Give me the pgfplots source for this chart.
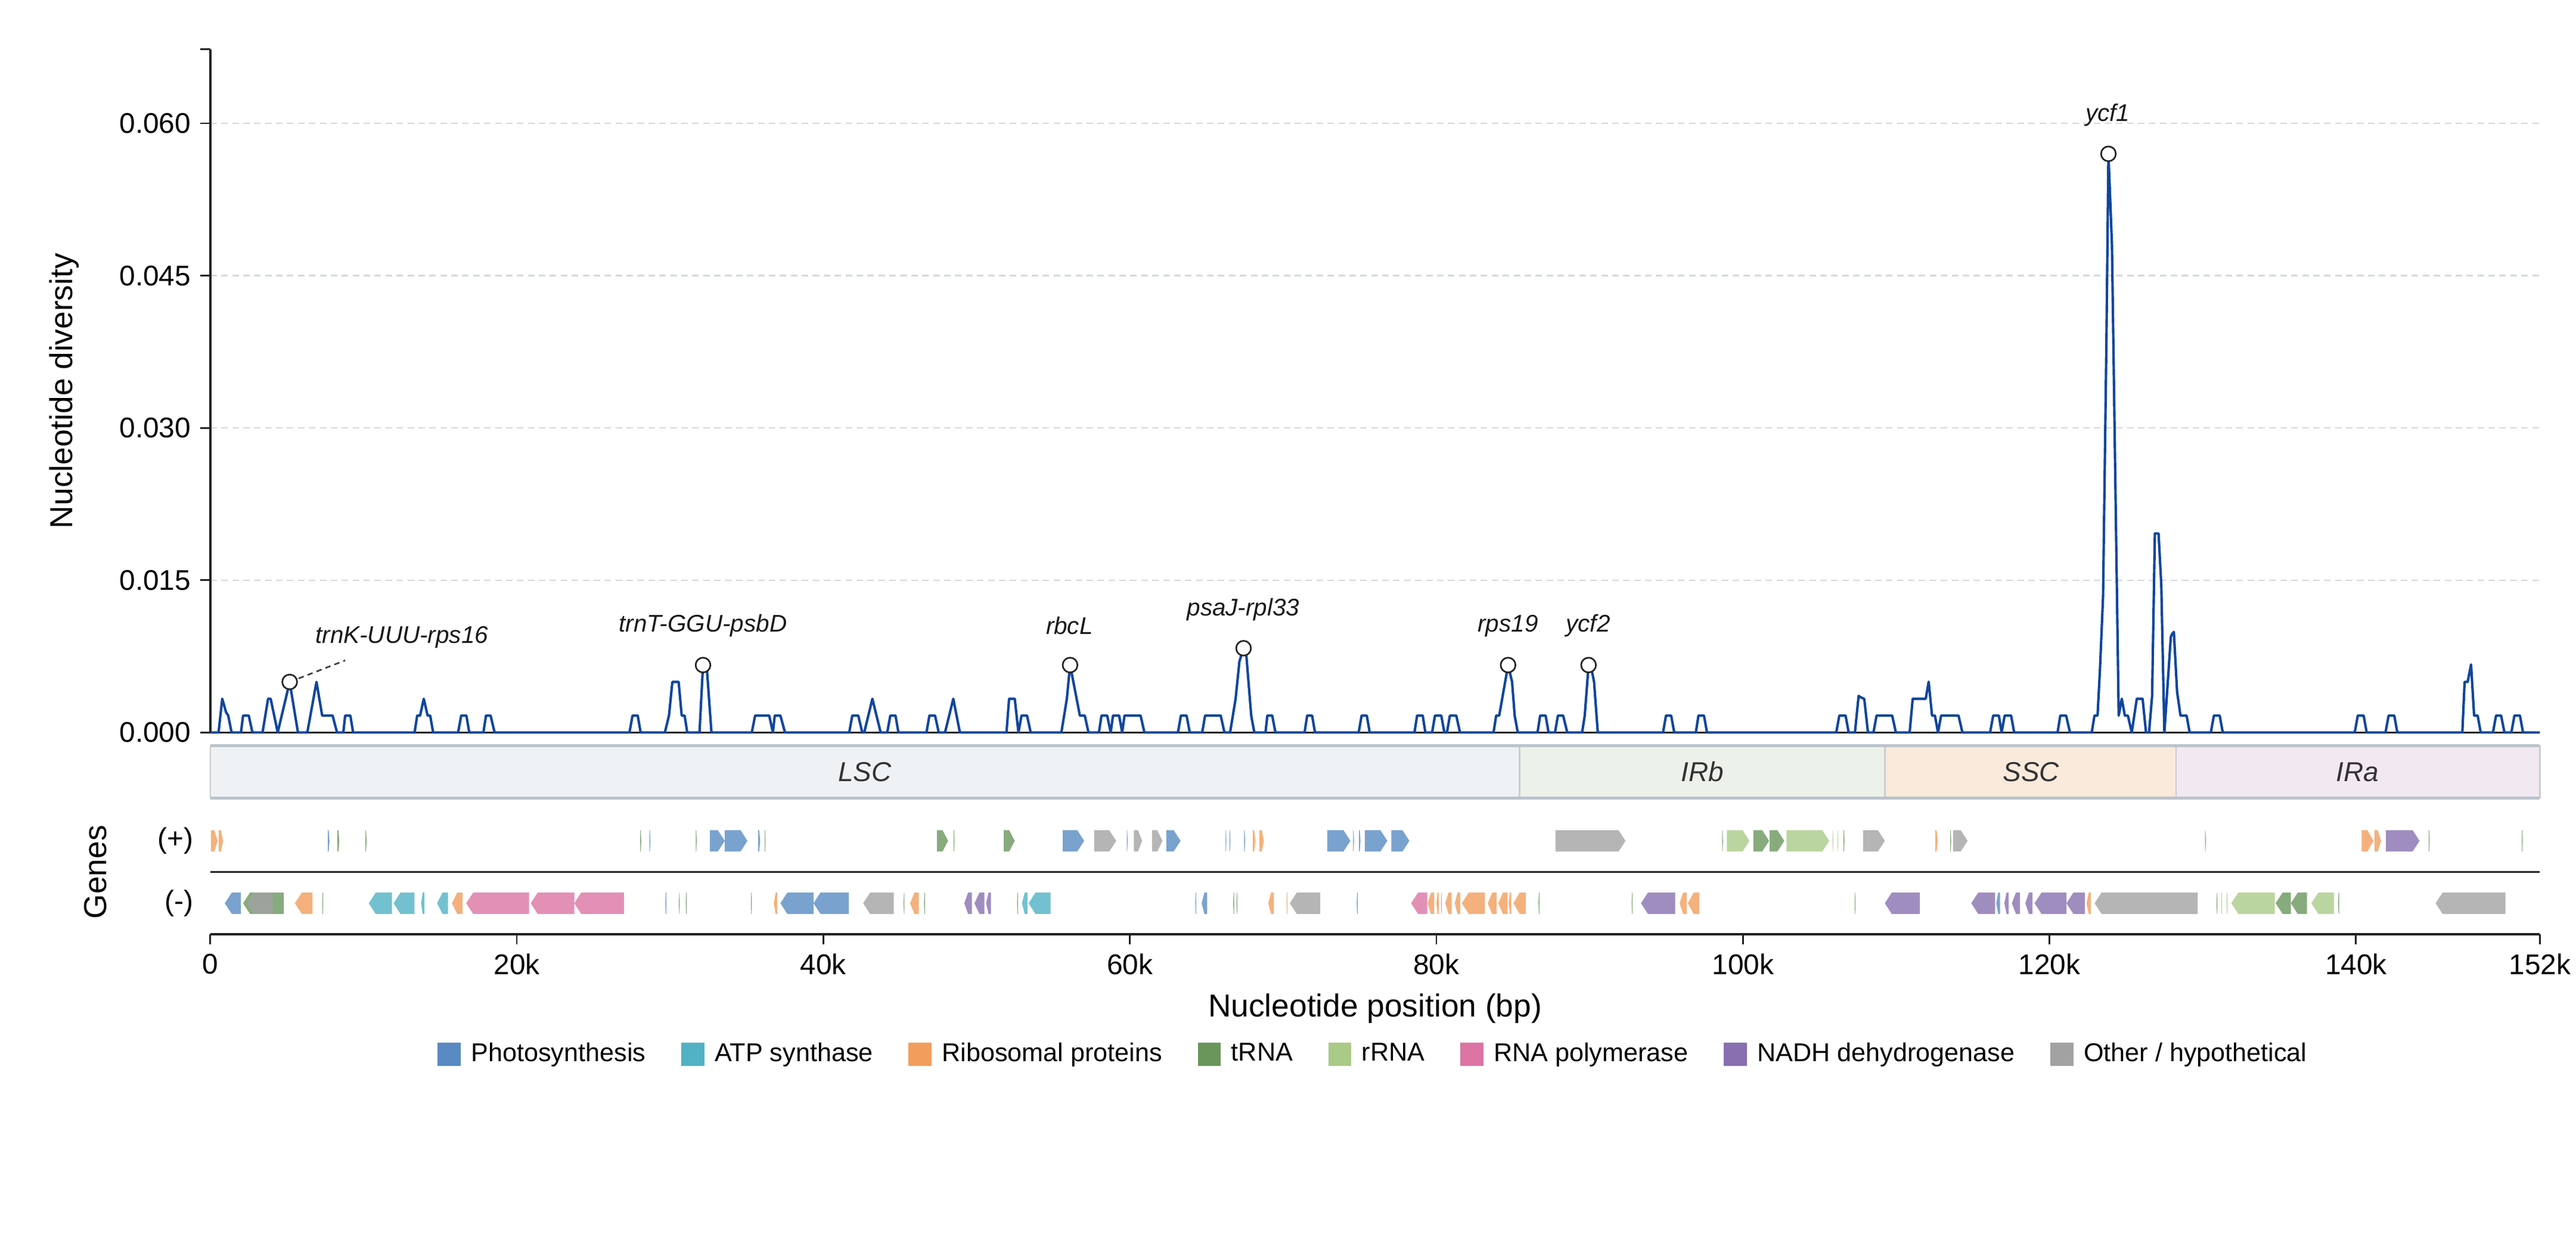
\documentclass[border=0pt]{standalone}
\usepackage{fontspec}
\setmainfont{Liberation Sans}
\usepackage{pgfplots}
\pgfplotsset{compat=1.18}

\definecolor{divc}{RGB}{16,70,156}
\definecolor{axisc}{RGB}{34,34,34}
\definecolor{gridc}{RGB}{212,217,222}
\definecolor{lscc}{RGB}{238,242,245}
\definecolor{irbc}{RGB}{236,242,234}
\definecolor{sscc}{RGB}{249,234,219}
\definecolor{irac}{RGB}{242,232,242}
\definecolor{regb}{RGB}{186,195,204}
\definecolor{regd}{RGB}{200,205,210}
\definecolor{phot}{RGB}{88,139,195}
\definecolor{atps}{RGB}{80,178,196}
\definecolor{ribo}{RGB}{241,158,92}
\definecolor{trna}{RGB}{106,150,92}
\definecolor{rrna}{RGB}{170,202,136}
\definecolor{rpol}{RGB}{220,116,164}
\definecolor{nadh}{RGB}{136,112,176}
\definecolor{othr}{RGB}{162,162,162}

\pgfplotsset{genebox/.style={draw=none, fill opacity=0.8, forget plot}}

% gene on the + strand (arrow points right) / - strand (arrow points left)
\newcommand{\geneP}[3]{%
  \pgfmathsetmacro\gtip{min(0.45,0.5*(#2-#1))}%
  \pgfmathsetmacro\gbase{#2-\gtip}%
  \addplot[genebox, fill=#3] coordinates {(#1,0.33) (\gbase,0.33) (#2,0.5) (\gbase,0.67) (#1,0.67)} --cycle;}
\newcommand{\geneM}[3]{%
  \pgfmathsetmacro\gtip{min(0.45,0.5*(#2-#1))}%
  \pgfmathsetmacro\gbase{#1+\gtip}%
  \addplot[genebox, fill=#3] coordinates {(#1,-0.5) (\gbase,-0.33) (#2,-0.33) (#2,-0.67) (\gbase,-0.67)} --cycle;}

\begin{document}
\begin{tikzpicture}
\path[use as bounding box] (-76.8pt,18pt) rectangle (864pt,-439.6pt);

% ---- nucleotide diversity ----
\begin{axis}[
  at={(0,0)}, anchor=north west,
  scale only axis, width=850.8pt, height=249.6pt,
  xmin=0, xmax=152, ymin=0, ymax=0.0673,
  axis x line*=bottom, axis y line*=left,
  axis line style={-, draw=axisc, line width=0.8pt},
  xtick=\empty,
  scaled y ticks=false,
  ytick={0,0.015,0.030,0.045,0.060},
  yticklabels={0.000,0.015,0.030,0.045,0.060},
  extra y ticks={0.0673}, extra y tick labels={\relax}, extra y tick style={grid=none},
  ytick pos=left, tick align=outside, major tick length=3.6pt,
  tick style={draw=axisc, line width=0.6pt},
  ymajorgrids, grid style={draw=gridc, line width=0.5pt, dash pattern=on 2.4pt off 1.6pt},
  tick label style={font=\fontsize{10.4}{12}\selectfont},
  /pgf/number format/assume math mode=true,
  ylabel={Nucleotide diversity},
  y label style={at={(axis description cs:-0.0628,0.5)}, anchor=center, font=\fontsize{11.6}{14}\selectfont},
  clip=false,
]
\addplot[color=divc, line width=0.9pt, line join=round] coordinates {
(0,0) (0.54,0) (0.78,0.00332) (1.03,0.0020) (1.17,0.00166) (1.39,0)
(2.0,0) (2.14,0.00166) (2.51,0.00166) (2.75,0)
(3.41,0) (3.77,0.00332) (3.94,0.00332) (4.4,0)
(5.18,0.00498) (5.72,0)
(6.33,0) (6.93,0.00498) (7.30,0.00166) (7.98,0.00166) (8.27,0)
(8.68,0) (8.8,0.00166) (9.14,0.00166) (9.32,0)
(13.33,0) (13.5,0.00166) (13.69,0.00166) (13.93,0.00332) (14.18,0.00166) (14.35,0.00166) (14.54,0)
(16.17,0) (16.37,0.00166) (16.71,0.00166) (16.9,0)
(17.82,0) (17.99,0.00166) (18.29,0.00166) (18.55,0)
(27.35,0) (27.55,0.00166) (27.89,0.00166) (28.08,0)
(29.66,0) (29.93,0.00166) (30.15,0.00498) (30.56,0.00498) (30.76,0.00166) (30.95,0.00166) (31.12,0)
(31.92,0) (32.15,0.00664) (32.4,0.0063) (32.7,0)
(35.33,0) (35.55,0.00166) (36.47,0.00166) (36.71,0) (36.83,0.00166) (37.2,0.00166) (37.5,0)
(41.69,0) (41.89,0.00166) (42.28,0.00166) (42.54,0) (42.67,0) (43.2,0.00332) (43.74,0)
(44.17,0) (44.37,0.00166) (44.71,0.00166) (44.9,0)
(46.73,0) (46.92,0.00166) (47.29,0.00166) (47.53,0)
(47.94,0) (48.48,0.00332) (48.91,0)
(51.95,0) (52.12,0.00332) (52.49,0.00332) (52.73,0) (52.93,0.00166) (53.29,0.00166) (53.53,0)
(55.53,0) (55.89,0.00332) (56.1,0.00664) (56.74,0.00166) (57.06,0.00166) (57.3,0)
(57.98,0) (58.15,0.00166) (58.52,0.00166) (58.75,0) (58.9,0.00166) (59.3,0.00166) (59.5,0) (59.65,0.00166) (60.7,0.00166) (60.95,0)
(63.14,0) (63.33,0.00166) (63.7,0.00166) (63.91,0)
(64.72,0) (64.91,0.00166) (65.93,0.00166) (66.17,0)
(66.54,0) (66.9,0.00332) (67.15,0.0070) (67.42,0.0083) (67.6,0.0076) (67.92,0.00166) (68.12,0)
(68.85,0) (68.97,0.00166) (69.29,0.00166) (69.5,0)
(71.4,0) (71.57,0.00166) (71.89,0.00166) (72.08,0)
(74.93,0) (75.12,0.00166) (75.46,0.00166) (75.65,0)
(78.57,0) (78.74,0.00166) (79.11,0.00166) (79.28,0)
(79.72,0) (79.91,0.00166) (80.32,0.00166) (80.52,0)
(80.69,0) (80.88,0.00166) (81.3,0.00166) (81.54,0)
(83.73,0) (83.9,0.00166) (84.1,0.00166) (84.68,0.00664) (84.94,0.00498) (85.11,0.00166) (85.31,0)
(86.6,0) (86.77,0.00166) (87.13,0.00166) (87.32,0)
(87.74,0) (87.93,0.00166) (88.27,0.00166) (88.54,0)
(89.51,0) (89.68,0.00166) (89.93,0.00664) (90.1,0.0064) (90.29,0.00498) (90.53,0)
(94.79,0) (94.98,0.00166) (95.32,0.00166) (95.52,0)
(96.93,0) (97.1,0.00166) (97.46,0.00166) (97.66,0)
(106.09,0) (106.29,0.00166) (106.7,0.00166) (106.9,0)
(107.31,0) (107.55,0.0036) (107.65,0.0035) (107.92,0.0033) (108.16,0)
(108.52,0) (108.72,0.00166) (109.74,0.00166) (109.98,0)
(110.88,0) (111.08,0.00332) (111.93,0.00332) (112.12,0.0050) (112.34,0.00166) (112.53,0.00166) (112.73,0) (112.93,0.00166) (114.07,0.00166) (114.32,0)
(116.13,0) (116.33,0.00166) (116.7,0.00166) (116.88,0) (117.08,0.00166) (117.5,0.00166) (117.7,0)
(120.53,0) (120.71,0.00166) (121.09,0.00166) (121.34,0)
(122.76,0) (122.94,0.00166) (123.14,0.00166) (123.3,0.0063) (123.5,0.0134) (123.72,0.0386) (123.85,0.0570) (124.08,0.048) (124.52,0.00166) (124.72,0.00332) (124.92,0.00166) (125.12,0.00166) (125.37,0)
(125.7,0.00332) (126.08,0.00332) (126.3,0) (126.5,0) (126.7,0.0036) (126.88,0.0196) (127.12,0.0196) (127.3,0.0145) (127.5,0)
(127.92,0.0094) (128.0,0.0097) (128.12,0.0099) (128.33,0.0040) (128.55,0.00166) (128.95,0.00166) (129.15,0)
(130.53,0) (130.73,0.00166) (131.11,0.00166) (131.31,0)
(139.92,0) (140.12,0.00166) (140.5,0.00166) (140.7,0)
(141.93,0) (142.13,0.00166) (142.5,0.00166) (142.7,0)
(146.94,0) (147.09,0.00498) (147.29,0.00498) (147.51,0.0067) (147.71,0.00166) (147.94,0.00166) (148.14,0)
(148.94,0) (149.14,0.00166) (149.47,0.00166) (149.69,0)
(150.14,0) (150.34,0.00166) (150.7,0.00166) (150.9,0) (152,0)
};
\addplot[draw=black!75, line width=0.6pt, dash pattern=on 2pt off 1.5pt] coordinates {(5.18,0.00498) (8.8,0.0071)};
\addplot[only marks, mark=*, mark size=2.7pt, mark options={fill=white, draw=black!85, line width=0.6pt}] coordinates {
(5.18,0.00498) (32.15,0.00664) (56.1,0.00664) (67.42,0.0083) (84.68,0.00664) (89.93,0.00664) (123.85,0.0570)
};
\tikzset{ann/.style={font=\fontsize{8.8}{10}\selectfont\itshape, text=black!90, anchor=center, inner sep=0pt}}
\node[ann] at (axis cs:12.5,0.0094) {trnK-UUU-rps16};
\node[ann] at (axis cs:32.15,0.0105) {trnT-GGU-psbD};
\node[ann] at (axis cs:56.06,0.0105) {rbcL};
\node[ann] at (axis cs:67.4,0.0121) {psaJ-rpl33};
\node[ann] at (axis cs:84.67,0.0105) {rps19};
\node[ann] at (axis cs:89.9,0.0105) {ycf2};
\node[ann] at (axis cs:123.8,0.0608) {ycf1};
\end{axis}

% ---- regions ----
\begin{axis}[
  at={(0,-254.4pt)}, anchor=north west,
  scale only axis, width=850.8pt, height=19.2pt,
  xmin=0, xmax=152, ymin=0, ymax=1,
  hide axis, clip=false,
]
\addplot[fill=lscc, draw=none] coordinates {(0,0) (85.43,0) (85.43,1) (0,1)} --cycle;
\addplot[fill=irbc, draw=none] coordinates {(85.43,0) (109.26,0) (109.26,1) (85.43,1)} --cycle;
\addplot[fill=sscc, draw=none] coordinates {(109.26,0) (128.27,0) (128.27,1) (109.26,1)} --cycle;
\addplot[fill=irac, draw=none] coordinates {(128.27,0) (152,0) (152,1) (128.27,1)} --cycle;
\addplot[draw=regd, line width=0.5pt] coordinates {(0,0) (0,1)};
\addplot[draw=regd, line width=0.5pt] coordinates {(85.43,0) (85.43,1)};
\addplot[draw=regd, line width=0.5pt] coordinates {(109.26,0) (109.26,1)};
\addplot[draw=regd, line width=0.5pt] coordinates {(128.27,0) (128.27,1)};
\addplot[draw=regd, line width=0.5pt] coordinates {(152,0) (152,1)};
\addplot[draw=regb, line width=1pt] coordinates {(0,1) (152,1)};
\addplot[draw=regb, line width=1pt] coordinates {(0,0) (152,0)};
\tikzset{reg/.style={font=\fontsize{10}{12}\selectfont\itshape, text=black!80, anchor=center}}
\node[reg] at (axis cs:42.7,0.5) {LSC};
\node[reg] at (axis cs:97.35,0.5) {IRb};
\node[reg] at (axis cs:118.8,0.5) {SSC};
\node[reg] at (axis cs:140.1,0.5) {IRa};
\end{axis}

% ---- genes ----
\begin{axis}[
  at={(0,-277.8pt)}, anchor=north west,
  scale only axis, width=850.8pt, height=45.6pt,
  xmin=0, xmax=152, ymin=-1, ymax=1,
  axis x line*=bottom, axis y line*=left,
  x axis line style={-, draw=axisc, line width=0.9pt},
  y axis line style={draw=none},
  xtick={0,20,40,60,80,100,120,140,152},
  xticklabels={0,20k,40k,60k,80k,100k,120k,140k,152k},
  xtick pos=bottom, tick align=outside, major tick length=3.6pt,
  xtick style={draw=axisc, line width=0.6pt},
  ytick={-0.5,0.5}, yticklabels={(-),(+)}, ytick pos=left,
  ytick style={draw=none},
  yticklabel style={xshift=1pt},
  tick label style={font=\fontsize{10.4}{12}\selectfont},
  xlabel={Nucleotide position (bp)},
  x label style={at={(axis description cs:0.5,-0.592)}, anchor=center, font=\fontsize{11.6}{14}\selectfont},
  ylabel={Genes},
  y label style={at={(axis description cs:-0.0494,0.5)}, anchor=center, font=\fontsize{11.6}{14}\selectfont},
  legend style={at={(0.5,-0.96)}, anchor=center, draw=none, fill=none, legend columns=8,
    font=\fontsize{9.4}{11}\selectfont,
    /tikz/every odd column/.append style={column sep=1.8pt},
    /tikz/every even column/.append style={column sep=11pt}},
  legend image code/.code={\fill[#1, draw=none] (0pt,-4.2pt) rectangle (8.4pt,4.2pt);},
  clip=false,
]
\addlegendimage{fill=phot}\addlegendentry{Photosynthesis}
\addlegendimage{fill=atps}\addlegendentry{ATP synthase}
\addlegendimage{fill=ribo}\addlegendentry{Ribosomal proteins}
\addlegendimage{fill=trna}\addlegendentry{tRNA}
\addlegendimage{fill=rrna}\addlegendentry{rRNA}
\addlegendimage{fill=rpol}\addlegendentry{RNA polymerase}
\addlegendimage{fill=nadh}\addlegendentry{NADH dehydrogenase}
\addlegendimage{fill=othr}\addlegendentry{Other / hypothetical}

\addplot[draw=axisc, line width=0.7pt, forget plot] coordinates {(0,0) (152,0)};

% + strand
\geneP{0.05}{0.48}{ribo}
\geneP{0.55}{0.84}{ribo}
\geneP{7.67}{7.78}{phot}
\geneP{8.30}{8.42}{trna}
\geneP{10.12}{10.20}{trna}
\geneP{28.05}{28.12}{trna}
\geneP{28.65}{28.72}{phot}
\geneP{31.68}{31.74}{trna}
\geneP{32.60}{33.57}{phot}
\geneP{33.57}{35.05}{phot}
\geneP{35.75}{35.88}{phot}
\geneP{36.18}{36.23}{trna}
\geneP{47.42}{48.14}{trna}
\geneP{48.50}{48.56}{trna}
\geneP{51.77}{52.49}{trna}
\geneP{55.62}{57.02}{phot}
\geneP{57.67}{59.11}{othr}
\geneP{59.80}{59.86}{phot}
\geneP{60.26}{60.80}{othr}
\geneP{61.45}{62.13}{othr}
\geneP{62.38}{63.31}{phot}
\geneP{66.25}{66.30}{phot}
\geneP{66.50}{66.56}{phot}
\geneP{67.46}{67.52}{phot}
\geneP{68.02}{68.20}{ribo}
\geneP{68.46}{68.75}{ribo}
\geneP{72.88}{74.39}{phot}
\geneP{74.57}{74.63}{phot}
\geneP{74.95}{75.05}{phot}
\geneP{75.33}{76.80}{phot}
\geneP{77.06}{78.24}{phot}
\geneP{87.77}{92.34}{othr}
\geneP{98.64}{98.70}{trna}
\geneP{98.96}{100.43}{rrna}
\geneP{100.69}{101.71}{trna}
\geneP{101.75}{102.70}{trna}
\geneP{102.84}{105.63}{rrna}
\geneP{105.85}{105.90}{rrna}
\geneP{106.17}{106.22}{rrna}
\geneP{106.57}{106.63}{trna}
\geneP{107.85}{109.26}{othr}
\geneP{112.55}{112.72}{ribo}
\geneP{113.53}{113.59}{trna}
\geneP{113.71}{114.66}{othr}
\geneP{130.15}{130.21}{trna}
\geneP{140.37}{141.14}{ribo}
\geneP{141.21}{141.64}{ribo}
\geneP{141.96}{144.15}{nadh}
\geneP{144.75}{144.81}{trna}
\geneP{150.82}{150.88}{trna}

% - strand
\geneM{0.95}{2.00}{phot}
\geneM{2.14}{4.80}{trna}
\geneM{2.39}{4.08}{othr}
\geneM{5.52}{6.67}{ribo}
\geneM{7.30}{7.35}{trna}
\geneM{10.34}{11.85}{atps}
\geneM{11.96}{13.32}{atps}
\geneM{13.75}{13.97}{atps}
\geneM{14.80}{15.51}{atps}
\geneM{15.77}{16.45}{ribo}
\geneM{16.70}{20.80}{rpol}
\geneM{20.91}{23.75}{rpol}
\geneM{23.75}{26.99}{rpol}
\geneM{29.69}{29.75}{phot}
\geneM{30.57}{30.63}{trna}
\geneM{31.02}{31.08}{trna}
\geneM{35.27}{35.33}{trna}
\geneM{36.77}{37.00}{ribo}
\geneM{37.20}{39.36}{phot}
\geneM{39.36}{41.66}{phot}
\geneM{42.60}{44.60}{othr}
\geneM{45.23}{45.29}{trna}
\geneM{45.66}{46.23}{ribo}
\geneM{46.57}{46.63}{trna}
\geneM{49.20}{49.69}{nadh}
\geneM{49.86}{50.51}{nadh}
\geneM{50.62}{50.94}{nadh}
\geneM{52.64}{52.70}{trna}
\geneM{52.96}{53.32}{atps}
\geneM{53.39}{54.83}{atps}
\geneM{64.27}{64.32}{phot}
\geneM{64.69}{65.04}{phot}
\geneM{66.74}{66.80}{trna}
\geneM{66.96}{67.02}{trna}
\geneM{69.03}{69.40}{ribo}
\geneM{70.22}{70.28}{ribo}
\geneM{70.44}{72.42}{othr}
\geneM{74.80}{74.86}{phot}
\geneM{78.35}{79.40}{rpol}
\geneM{79.43}{79.86}{ribo}
\geneM{80.00}{80.15}{ribo}
\geneM{80.30}{80.36}{othr}
\geneM{80.58}{81.00}{ribo}
\geneM{81.20}{81.55}{ribo}
\geneM{81.66}{83.17}{ribo}
\geneM{83.35}{83.93}{ribo}
\geneM{84.04}{84.64}{ribo}
\geneM{84.71}{84.89}{ribo}
\geneM{85.03}{85.83}{ribo}
\geneM{86.66}{86.72}{trna}
\geneM{92.74}{92.80}{trna}
\geneM{93.35}{95.58}{nadh}
\geneM{95.87}{96.33}{ribo}
\geneM{96.41}{97.16}{ribo}
\geneM{107.29}{107.35}{trna}
\geneM{109.26}{111.55}{nadh}
\geneM{114.90}{116.46}{nadh}
\geneM{116.53}{116.78}{phot}
\geneM{117.06}{117.34}{nadh}
\geneM{117.55}{118.08}{nadh}
\geneM{118.43}{118.89}{nadh}
\geneM{119.03}{121.11}{nadh}
\geneM{121.11}{122.31}{nadh}
\geneM{122.42}{122.70}{ribo}
\geneM{122.95}{129.68}{othr}
\geneM{130.90}{130.96}{trna}
\geneM{131.20}{131.26}{rrna}
\geneM{131.55}{131.62}{rrna}
\geneM{131.87}{134.70}{rrna}
\geneM{134.76}{135.75}{trna}
\geneM{135.75}{136.80}{trna}
\geneM{137.09}{138.57}{rrna}
\geneM{138.83}{138.90}{trna}
\geneM{145.20}{149.75}{othr}
\end{axis}
\end{tikzpicture}
\end{document}
